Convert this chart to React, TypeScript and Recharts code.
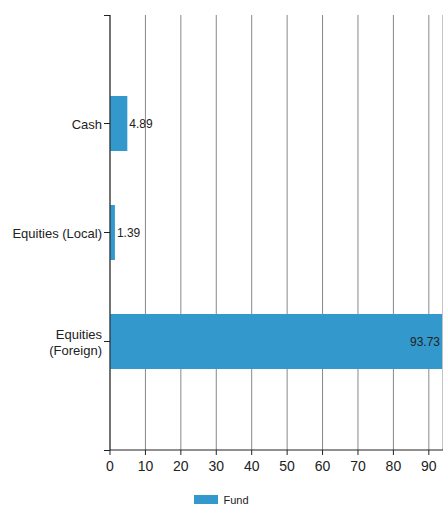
import { BarChart, Bar, XAxis, YAxis, CartesianGrid, Legend, LabelList } from 'recharts'

const categories = ['Cash', 'Equities (Local)', 'Equities (Foreign)']
const fundValues = [4.89, 1.39, 93.73]
const xTicks = [0, 10, 20, 30, 40, 50, 60, 70, 80, 90]

const data = categories.map((name, i) => ({ name, fund: fundValues[i] }))

const FONT = '"Liberation Sans", Arial, sans-serif'
const BLUE = '#3399cc'

// labels longer than this wrap onto two lines, like the original axis
const MAX_CHARS = 16

function wrap(label: string): string[] {
  if (label.length <= MAX_CHARS) return [label]
  const cut = label.lastIndexOf(' ')
  return [label.slice(0, cut), label.slice(cut + 1)]
}

function YTick(props: any) {
  const { x, y, payload } = props
  const lines = wrap(String(payload.value))
  const lh = 16
  const start = y - ((lines.length - 1) * lh) / 2
  return (
    <text x={x} y={start} textAnchor="end" dominantBaseline="central"
      fontSize={13} fontFamily={FONT} fill="#222">
      {lines.map((l, i) => (
        <tspan key={i} x={x} y={start + i * lh}>{l}</tspan>
      ))}
    </text>
  )
}

function ValueLabel(props: any) {
  const { x, y, width, height, value } = props
  const inside = width > 60
  return (
    <text
      x={inside ? x + width - 2 : x + width + 2}
      y={y + height / 2}
      textAnchor={inside ? 'end' : 'start'}
      dominantBaseline="central"
      fontSize={12} fontFamily={FONT} fill="#222"
    >
      {value}
    </text>
  )
}

function LegendBox() {
  return (
    <div style={{ display: 'flex', justifyContent: 'center', alignItems: 'center', height: 25, paddingTop: 14, boxSizing: 'border-box', fontFamily: FONT, fontSize: 11, color: '#222' }}>
      <span style={{ display: 'inline-block', width: 24, height: 9, background: BLUE, marginRight: 5 }} />
      <span>Fund</span>
    </div>
  )
}

export default function App() {
  return (
    <div style={{ position: 'absolute', left: 0, top: 0, width: 443, height: 505, overflow: 'hidden' }}>
      <BarChart layout="vertical" width={443} height={505} data={data}
        margin={{ top: 15, right: 0, left: 0, bottom: 0 }} barSize={55}>
        <CartesianGrid horizontal={false} stroke="#888" strokeDasharray="" />
        <XAxis type="number" domain={[0, 94]} ticks={xTicks} allowDataOverflow
          height={30} tickSize={5} tickMargin={6}
          tick={{ fontSize: 14, fontFamily: FONT, fill: '#222' }}
          axisLine={{ stroke: '#222' }} tickLine={{ stroke: '#222' }} />
        <YAxis type="category" dataKey="name" width={110} tickSize={6} tickMargin={2}
          padding={{ top: 54, bottom: 54 }} tick={<YTick />}
          axisLine={{ stroke: '#222' }} tickLine={{ stroke: '#222' }} />
        <Legend verticalAlign="bottom" height={25} content={<LegendBox />} />
        <Bar dataKey="fund" name="Fund" fill={BLUE} isAnimationActive={false}>
          <LabelList dataKey="fund" content={<ValueLabel />} />
        </Bar>
      </BarChart>
      <svg width={443} height={505} style={{ position: 'absolute', left: 0, top: 0, pointerEvents: 'none' }}>
        <line x1={104} x2={110} y1={15.5} y2={15.5} stroke="#222" />
        <line x1={104} x2={110} y1={450.5} y2={450.5} stroke="#222" />
      </svg>
    </div>
  )
}
